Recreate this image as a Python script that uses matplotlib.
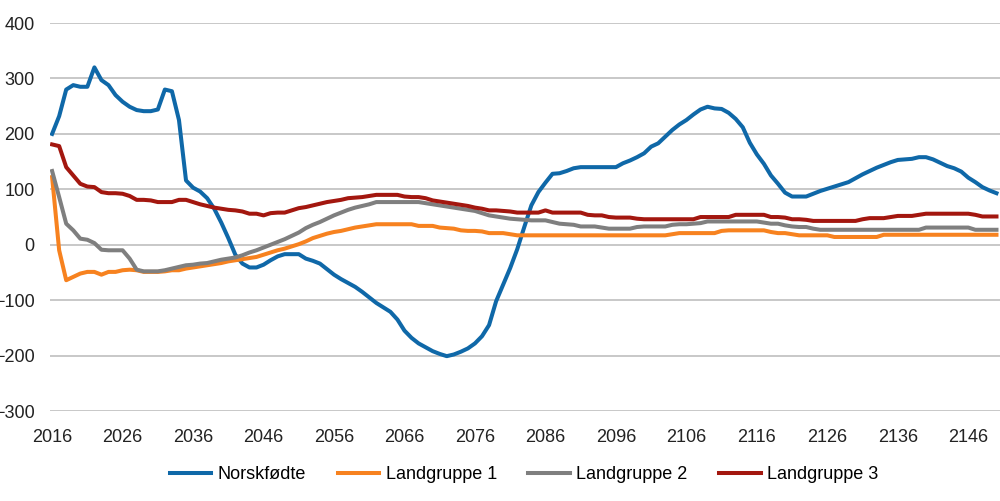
import numpy as np
import matplotlib
matplotlib.use("Agg")
import matplotlib.pyplot as plt

plt.rcParams['font.family'] = ['Liberation Sans', 'DejaVu Sans']

years = np.arange(2016, 2151)

norskfodte = [
    200, 232, 280, 288, 285, 285, 320, 297, 288, 270,
    258, 249, 243, 241, 241, 244, 280, 277, 225, 116,
    103, 96, 84, 65, 40, 12, -18, -34, -41, -41,
    -36, -28, -21, -17, -17, -17, -25, -29, -34, -44,
    -54, -62, -69, -76, -85, -95, -105, -113, -121, -135,
    -155, -168, -178, -185, -192, -197, -201, -198, -193, -187,
    -178, -165, -145, -102, -72, -42, -8, 32, 71, 95,
    112, 128, 129, 133, 138, 140, 140, 140, 140, 140,
    140, 147, 152, 158, 165, 177, 183, 195, 207, 217,
    225, 235, 244, 249, 246, 245, 238, 227, 212, 184,
    163, 146, 125, 110, 94, 87, 87, 87, 92, 97,
    101, 105, 109, 113, 120, 127, 133, 139, 144, 149,
    153, 154, 155, 158, 158, 154, 148, 142, 138, 132,
    121, 113, 104, 98, 93,
]

landgruppe1 = [
    122, -10, -64, -58, -52, -49, -49, -54, -49, -49,
    -46, -45, -46, -49, -49, -49, -48, -46, -46, -43,
    -41, -39, -37, -35, -33, -30, -28, -26, -24, -22,
    -18, -14, -10, -7, -3, 1, 6, 12, 16, 20,
    23, 25, 28, 31, 33, 35, 37, 37, 37, 37,
    37, 37, 34, 34, 34, 31, 30, 29, 26, 25,
    25, 24, 21, 21, 21, 19, 17, 17, 17, 17,
    17, 17, 17, 17, 17, 17, 17, 17, 17, 17,
    17, 17, 17, 17, 17, 17, 17, 17, 19, 21,
    21, 21, 21, 21, 21, 25, 26, 26, 26, 26,
    26, 26, 23, 21, 21, 19, 17, 17, 17, 17,
    17, 14, 14, 14, 14, 14, 14, 14, 18, 18,
    18, 18, 18, 18, 18, 18, 18, 18, 18, 18,
    18, 18, 18, 18, 18,
]

landgruppe2 = [
    133, 86, 38, 26, 11, 9, 3, -9, -10, -10,
    -10, -25, -45, -48, -48, -48, -46, -43, -40, -37,
    -36, -34, -33, -30, -27, -25, -23, -19, -14, -10,
    -5, 0, 5, 10, 16, 22, 30, 36, 41, 47,
    53, 58, 63, 67, 70, 73, 77, 77, 77, 77,
    77, 77, 77, 75, 73, 71, 69, 67, 65, 63,
    61, 57, 53, 51, 49, 47, 46, 45, 44, 44,
    44, 41, 38, 37, 36, 33, 33, 33, 31, 29,
    29, 29, 29, 32, 33, 33, 33, 33, 36, 37,
    37, 38, 39, 42, 42, 42, 42, 42, 42, 42,
    42, 40, 38, 38, 35, 33, 32, 32, 29, 27,
    27, 27, 27, 27, 27, 27, 27, 27, 27, 27,
    27, 27, 27, 27, 31, 31, 31, 31, 31, 31,
    31, 27, 27, 27, 27,
]

landgruppe3 = [
    181, 178, 140, 125, 110, 105, 104, 95, 93, 93,
    92, 88, 81, 81, 80, 77, 77, 77, 81, 81,
    77, 73, 70, 67, 65, 63, 62, 60, 56, 56,
    53, 57, 58, 58, 62, 66, 68, 71, 74, 77,
    79, 81, 84, 85, 86, 88, 90, 90, 90, 90,
    87, 86, 86, 84, 80, 78, 76, 74, 72, 70,
    67, 65, 62, 62, 61, 60, 58, 58, 58, 58,
    62, 58, 58, 58, 58, 58, 54, 53, 53, 50,
    49, 49, 49, 47, 46, 46, 46, 46, 46, 46,
    46, 46, 50, 50, 50, 50, 50, 54, 54, 54,
    54, 54, 50, 50, 49, 46, 46, 45, 43, 43,
    43, 43, 43, 43, 43, 46, 48, 48, 48, 50,
    52, 52, 52, 54, 56, 56, 56, 56, 56, 56,
    56, 54, 51, 51, 51,
]

series = [
    ("Norskfødte", norskfodte, "#0F68A8"),
    ("Landgruppe 1", landgruppe1, "#F7821F"),
    ("Landgruppe 2", landgruppe2, "#7F7F7F"),
    ("Landgruppe 3", landgruppe3, "#A3170F"),
]

fig = plt.figure(figsize=(10, 5.01), dpi=100)
ax = fig.add_axes([0.05, 0.1796, 0.95, 0.7744])

for name, vals, col in series:
    ax.plot(years, vals, color=col, lw=2.9, label=name, solid_joinstyle="round")

ax.set_ylim(-300, 400)
ax.set_xlim(2015.7, 2150.5)
ax.set_yticks(range(-300, 401, 100))
ax.set_xticks(range(2016, 2150, 10))
ax.grid(axis="y", color="#BFBFBF", lw=1.2)
ax.set_axisbelow(True)
for s in ax.spines.values():
    s.set_visible(False)
ax.tick_params(axis="both", length=0, labelsize=13, colors="#222222")
ax.tick_params(axis="y", pad=11)
ax.tick_params(axis="x", pad=13)

fig.legend(loc="center", bbox_to_anchor=(0.524, 0.052), ncol=4, frameon=False,
           fontsize=13, handlelength=2.3, handletextpad=0.35, columnspacing=1.75)

fig.savefig("out.png", dpi=100)
